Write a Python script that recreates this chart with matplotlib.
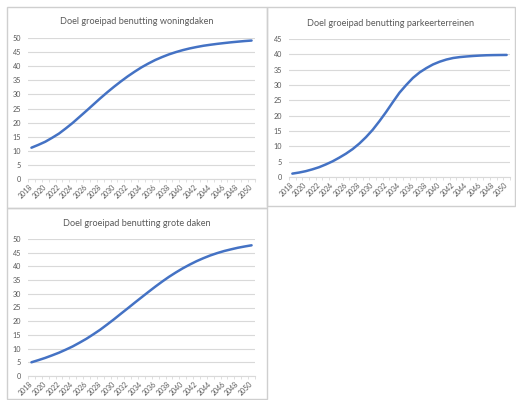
import matplotlib
matplotlib.use("Agg")
import matplotlib.pyplot as plt
from matplotlib.patches import Rectangle
import numpy as np

years = list(range(2018, 2051))
year_labels = [str(y) for y in years]

woningdaken = [11.1, 12.1, 13.2, 14.6, 16.1, 17.95, 19.9, 22.05, 24.2, 26.4, 28.6,
               30.7, 32.7, 34.6, 36.4, 38.05, 39.6, 40.95, 42.2, 43.25, 44.2, 45.0,
               45.7, 46.3, 46.8, 47.25, 47.6, 47.92, 48.2, 48.47, 48.7, 48.92, 49.1]
parkeerterreinen = [1.1, 1.45, 1.9, 2.5, 3.2, 4.1, 5.1, 6.3, 7.6, 9.1, 10.9,
                    13.0, 15.4, 18.2, 21.2, 24.4, 27.5, 30.0, 32.3, 34.1, 35.5, 36.7,
                    37.6, 38.3, 38.8, 39.1, 39.3, 39.47, 39.6, 39.7, 39.75, 39.78, 39.8]
grote_daken = [5.0, 5.78, 6.6, 7.53, 8.5, 9.62, 10.8, 12.17, 13.6, 15.22, 16.9,
               18.78, 20.7, 22.72, 24.7, 26.72, 28.7, 30.67, 32.6, 34.45, 36.2, 37.8,
               39.3, 40.65, 41.9, 43.0, 44.0, 44.85, 45.6, 46.22, 46.8, 47.27, 47.7]

titles = ["Doel groeipad benutting woningdaken",
          "Doel groeipad benutting parkeerterreinen",
          "Doel groeipad benutting grote daken"]
ymaxes = [50, 45, 50]

W, H = 516, 400
fig = plt.figure(figsize=(W / 100, H / 100), dpi=100)
fig.patch.set_facecolor("white")

FONT = "Lato"
TXT = "#595959"
GRID = "#d9d9d9"
LINE = "#4472C4"

def px_rect(x0, y0, x1, y1):
    return [x0 / W, 1 - y1 / H, (x1 - x0) / W, (y1 - y0) / H]

# panel frames (pixel coords, top-left origin)
frames = [(7, 7, 267, 208), (267, 7, 515, 206), (7, 208, 267, 399)]
for (x0, y0, x1, y1) in frames:
    fig.patches.append(Rectangle((x0 / W, 1 - y1 / H), (x1 - x0) / W, (y1 - y0) / H,
                                 transform=fig.transFigure, fill=False,
                                 edgecolor="#cfcfcf", linewidth=1.0))

axes_px = [(28, 38, 255, 179), (289, 39, 510, 177), (28, 239, 255, 376)]
title_y = [21, 23, 223]
series = [woningdaken, parkeerterreinen, grote_daken]

for i in range(3):
    ax = fig.add_axes(px_rect(*axes_px[i]))
    x = np.arange(len(years))
    ax.plot(x, series[i], color=LINE, linewidth=1.8, solid_capstyle="round",
            solid_joinstyle="round")
    ax.set_xlim(-0.5, len(years) - 0.5)
    ax.set_ylim(0, ymaxes[i])
    ax.set_yticks(np.arange(0, ymaxes[i] + 1, 5))
    ax.yaxis.grid(True, color=GRID, linewidth=0.8)
    ax.set_axisbelow(True)
    for s in ["top", "right", "left"]:
        ax.spines[s].set_visible(False)
    ax.spines["bottom"].set_color(GRID)
    ax.spines["bottom"].set_linewidth(0.8)
    ax.set_xticks(x[::2])
    ax.set_xticklabels(year_labels[::2], rotation=45, fontsize=5.0,
                       color=TXT, family=FONT, ha="right", va="center",
                       rotation_mode="anchor")
    ax.set_xticks(np.arange(-0.5, len(years), 1.0), minor=True)
    ax.tick_params(axis="x", which="major", length=0, pad=5)
    ax.tick_params(axis="x", which="minor", length=2.5, color=GRID, width=0.6)
    ax.tick_params(axis="y", length=0, labelsize=5.2, labelcolor=TXT, pad=5)
    for lab in ax.get_yticklabels():
        lab.set_family(FONT)
    ax.set_facecolor("none")
    cx = frames[i][0] + (frames[i][2] - frames[i][0]) / 2
    fig.text(cx / W, 1 - title_y[i] / H, titles[i], ha="center", va="center",
             fontsize=6.6, color=TXT, family=FONT)

fig.savefig("out.png", dpi=100, facecolor="white")
